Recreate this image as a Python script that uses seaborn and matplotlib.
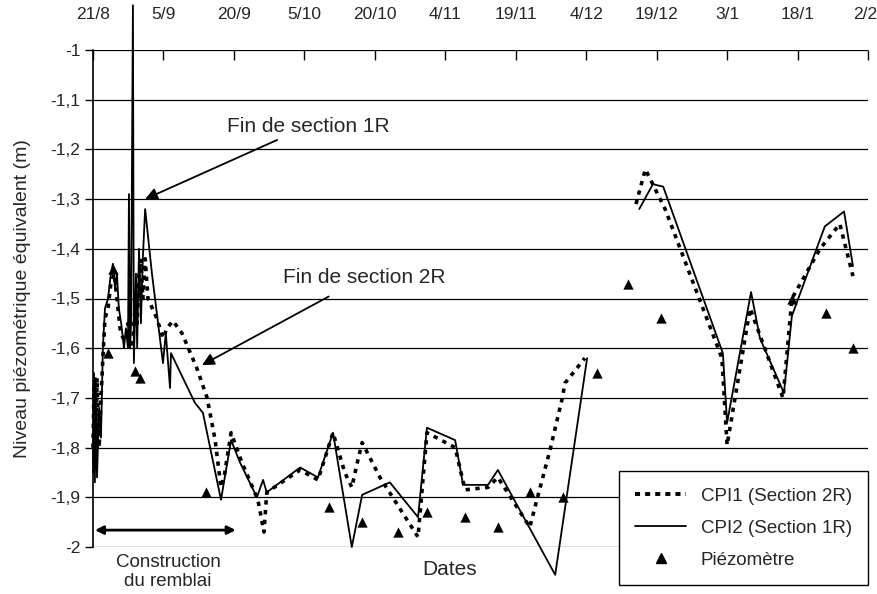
import pandas as pd
import matplotlib.pyplot as plt
import matplotlib.transforms as mtransforms
import seaborn as sns
from matplotlib.lines import Line2D

# axe des temps en jours depuis le 21/8
tick_days = [0, 15, 30, 45, 60, 75, 90, 105, 120, 135, 150, 165]
tick_labels = ["21/8", "5/9", "20/9", "5/10", "20/10", "4/11", "19/11",
               "4/12", "19/12", "3/1", "18/1", "2/2"]
y_ticks = [-1, -1.1, -1.2, -1.3, -1.4, -1.5, -1.6, -1.7, -1.8, -1.9, -2]
y_labels = ["-1", "-1,1", "-1,2", "-1,3", "-1,4", "-1,5", "-1,6", "-1,7",
            "-1,8", "-1,9", "-2"]

# CPI1 (Section 2R) - pointillés
cpi1_days = [0, 0.2, 0.6, 0.85, 1.3, 1.7, 2.1, 2.55, 3.2, 3.8, 4.5, 5.1, 5.75,
             6.4, 7.0, 7.45, 7.9, 8.5, 8.95, 9.4, 9.8, 10.2, 10.6, 11.1, 11.7,
             13.6, 14.9, 15.75, 17.0, 18.95, 22.1, 24.3, 26.0, 27.25, 27.9,
             29.4, 31.7, 35.1, 36.4, 37.0, 44.1, 47.9, 51.1, 53.6, 55.1, 56.4,
             57.3, 61.1, 69.2, 71.1, 77.1, 79.2, 84.1, 86.2, 93.0, 94.5, 97.3,
             99.8, 100.5, 102.2, 104.7,
             115.6, 117.6, 121.8, 133.9, 135.0, 139.9, 146.9, 148.8, 154.8,
             159.0, 161.8]
cpi1_vals = [-1.80, -1.68, -1.85, -1.66, -1.80, -1.70, -1.62, -1.54, -1.52,
             -1.47, -1.45, -1.50, -1.56, -1.58, -1.58, -1.55, -1.60, -1.58,
             -1.52, -1.55, -1.45, -1.42, -1.50, -1.42, -1.50, -1.54, -1.58,
             -1.56, -1.545, -1.57, -1.64, -1.70, -1.785, -1.88, -1.86, -1.77,
             -1.83, -1.905, -1.97, -1.89, -1.845, -1.865, -1.77, -1.85, -1.88,
             -1.825, -1.79, -1.86, -1.98, -1.77, -1.80, -1.885, -1.88, -1.86,
             -1.96, -1.905, -1.805, -1.705, -1.67, -1.65, -1.62,
             -1.31, -1.24, -1.32, -1.62, -1.795, -1.52, -1.70, -1.50, -1.40,
             -1.35, -1.455]

# CPI2 (Section 1R) - trait plein
cpi2_days = [0, 0.2, 0.4, 0.6, 0.85, 1.3, 1.7, 2.1, 2.55, 3.2, 3.8, 4.25, 4.7,
             5.1, 5.5, 6.0, 6.6, 7.0, 7.45, 7.65, 7.9, 8.1, 8.5, 8.7, 9.15,
             9.4, 9.8, 10.2, 10.6, 11.1, 12.55, 14.9, 15.5, 16.4, 16.6, 21.7,
             23.4, 27.25, 29.4, 31.3, 34.9, 36.2, 37.0, 44.1, 47.9, 51.1, 55.1,
             57.3, 63.2, 69.2, 71.1, 77.1, 78.8, 84.1, 86.2, 98.4, 105.2,
             116.3, 119.2, 121.4, 134.1, 135.0, 140.1, 142.0, 147.1, 148.8,
             155.8, 159.9, 161.8]
cpi2_vals = [-1.85, -1.65, -1.87, -1.66, -1.86, -1.72, -1.78, -1.60, -1.52,
             -1.50, -1.45, -1.43, -1.48, -1.45, -1.52, -1.55, -1.60, -1.56,
             -1.60, -1.29, -1.60, -1.55, -0.91, -1.63, -1.45, -1.60, -1.40,
             -1.55, -1.42, -1.32, -1.45, -1.63, -1.57, -1.68, -1.61, -1.71,
             -1.73, -1.905, -1.785, -1.83, -1.90, -1.865, -1.89, -1.84, -1.86,
             -1.77, -2.00, -1.895, -1.87, -1.94, -1.76, -1.785, -1.875, -1.875,
             -1.845, -2.056, -1.62,
             -1.32, -1.27, -1.275, -1.61, -1.75, -1.487, -1.58, -1.69, -1.535,
             -1.355, -1.325, -1.435]

# Piézomètre
piezo_days = [0, 0.3, 3.2, 4.25, 8.95, 10.0, 24.1, 50.2, 57.3, 64.9, 71.1,
              79.2, 86.2, 93.0, 100.1, 107.3, 113.9, 120.9, 148.8, 156.1, 161.8]
piezo_vals = [-1.75, -1.79, -1.61, -1.44, -1.645, -1.66, -1.89, -1.92, -1.95,
              -1.97, -1.93, -1.94, -1.96, -1.89, -1.90, -1.65, -1.47, -1.54,
              -1.50, -1.53, -1.60]

cpi1 = pd.DataFrame({"jour": cpi1_days, "niveau": cpi1_vals})
cpi1["seg"] = (cpi1["jour"] > 110).astype(int)
cpi2 = pd.DataFrame({"jour": cpi2_days, "niveau": cpi2_vals})
cpi2["seg"] = (cpi2["jour"] > 110).astype(int)
piezo = pd.DataFrame({"jour": piezo_days, "niveau": piezo_vals})

sns.set_theme(style="white")
plt.rcParams["font.family"] = ["Liberation Sans", "DejaVu Sans"]

fig = plt.figure(figsize=(8.78, 5.94), dpi=100)
ax = fig.add_axes([93 / 878, 1 - 547 / 594, 775 / 878, 497 / 594])

sns.lineplot(data=cpi1, x="jour", y="niveau", units="seg", estimator=None,
             sort=False, color="black", linewidth=2.6, ax=ax,
             dashes=False, linestyle=(0, (1.2, 1.5)))
sns.lineplot(data=cpi2, x="jour", y="niveau", units="seg", estimator=None,
             sort=False, color="black", linewidth=1.3, ax=ax)
sns.scatterplot(data=piezo, x="jour", y="niveau", marker="^", color="black",
                s=55, edgecolor="black", linewidth=0, ax=ax, zorder=5)
for line in ax.get_lines():
    line.set_clip_on(False)

ax.set_xlim(0, 165)
ax.set_ylim(-2, -1)
ax.set_xticks(tick_days)
ax.set_xticklabels(tick_labels)
ax.set_yticks(y_ticks)
ax.set_yticklabels(y_labels)
ax.xaxis.tick_top()
ax.tick_params(axis="x", which="both", top=True, bottom=False, direction="in",
               length=7, width=1, color="black", labelsize=12.5, pad=20)
ax.tick_params(axis="y", left=True, direction="out", length=6, width=1,
               color="black", labelsize=12.5, pad=3)
# dernier label (2/2) collé au bord droit
last = ax.get_xticklabels()[-1]
last.set_ha("right")
last.set_transform(last.get_transform() +
                   mtransforms.ScaledTranslation(9 / 100, 0, fig.dpi_scale_trans))
ax.grid(axis="y", color="black", linewidth=0.9)
ax.grid(axis="x", visible=False)
for side in ["right", "bottom", "top"]:
    ax.spines[side].set_visible(False)
ax.spines["left"].set_color("black")
ax.spines["left"].set_linewidth(1.2)
ax.set_xlabel("")
ax.set_ylabel("Niveau piézométrique équivalent (m)", fontsize=14, labelpad=14)

ax.annotate("Fin de section 1R", xy=(11.1, -1.30), xytext=(28.5, -1.153),
            fontsize=15, va="center", ha="left",
            arrowprops=dict(arrowstyle="-|>", color="black", lw=1.3,
                            mutation_scale=18, shrinkA=2, shrinkB=0))
ax.annotate("Fin de section 2R", xy=(23.2, -1.634), xytext=(40.5, -1.457),
            fontsize=15, va="center", ha="left",
            arrowprops=dict(arrowstyle="-|>", color="black", lw=1.3,
                            mutation_scale=18, shrinkA=10, shrinkB=0))
ax.annotate("", xy=(0.4, -1.966), xytext=(30.4, -1.966),
            arrowprops=dict(arrowstyle="<|-|>", color="black", lw=2,
                            mutation_scale=12, shrinkA=0, shrinkB=0))
ax.text(16, -2.05, "Construction\ndu remblai", fontsize=13.5, ha="center",
        va="center", linespacing=1.2, clip_on=False)
ax.text(76, -2.045, "Dates", fontsize=15, ha="center", va="center")

handles = [
    Line2D([], [], color="black", linewidth=2.8, linestyle=(0, (1.3, 1.3))),
    Line2D([], [], color="black", linewidth=1.3),
    Line2D([], [], color="black", marker="^", linestyle="none", markersize=7),
]
labels = ["CPI1 (Section 2R)", "CPI2 (Section 1R)", "Piézomètre"]
leg = ax.legend(handles, labels, loc="upper right", bbox_to_anchor=(1.0, 0.152),
                borderaxespad=0, fontsize=13.5, frameon=True, fancybox=False,
                edgecolor="black", framealpha=1, labelspacing=0.8,
                handlelength=2.7, borderpad=0.85, handletextpad=0.8)
leg.get_frame().set_linewidth(1.0)
leg.set_clip_on(False)

fig.savefig("out.png", dpi=100)
